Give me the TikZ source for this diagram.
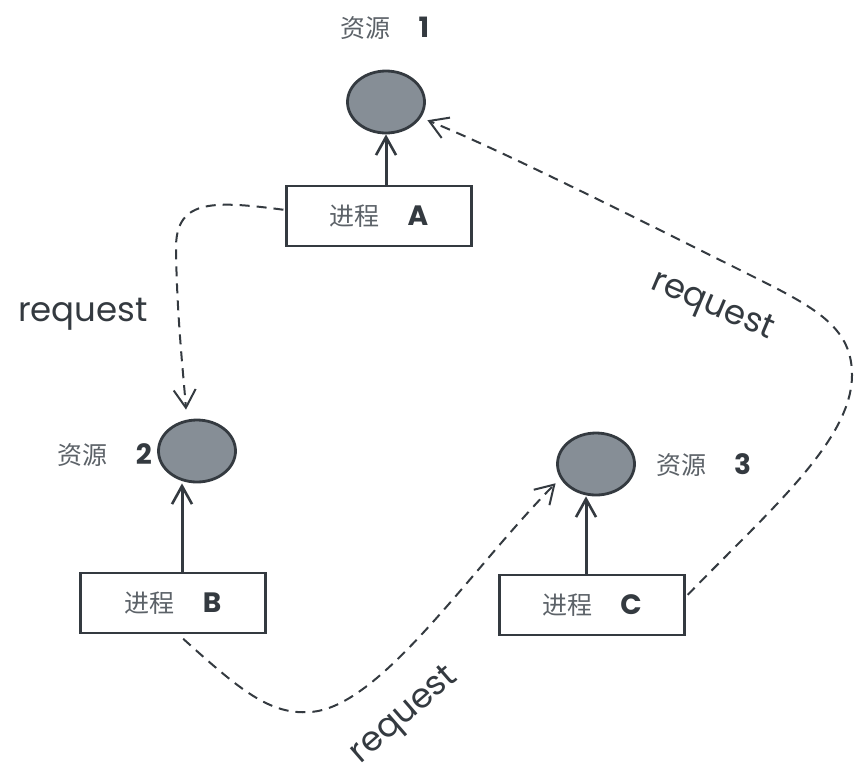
\documentclass[tikz,border=0pt]{standalone}
\usepackage{fontspec}
\usetikzlibrary{arrows.meta,shapes.geometric,calc}
\newfontfamily\cjk{Noto Sans CJK SC}
\newfontfamily\hand{Poppins}
\definecolor{ink}{HTML}{343A40}
\definecolor{lightink}{HTML}{5C6268}
\definecolor{resfill}{HTML}{868E96}
\tikzset{
  res/.style={ellipse,draw=ink,line width=2.8pt,fill=resfill,minimum width=77pt,minimum height=62pt,inner sep=0pt},
  proc/.style={draw=ink,line width=2.2pt,fill=white,minimum width=185pt,minimum height=60pt,inner sep=0pt,font=\fontsize{25}{27}\selectfont,text=lightink},
  lbl/.style={font=\fontsize{25}{27}\selectfont,text=lightink,inner sep=0pt},
  reqlbl/.style={font=\hand\fontsize{34}{36}\selectfont,text=ink,inner sep=0pt},
  solidarr/.style={draw=ink,line width=3pt,-{Straight Barb[length=18pt,width=20pt,line width=2.6pt]}},
  dasharr/.style={draw=ink,line width=2pt,dash pattern=on 10pt off 7pt,-{Straight Barb[length=18pt,width=22pt,line width=2pt]}},
}
\newcommand{\zh}[1]{{\cjk #1}}
\newcommand{\lat}[1]{{\hand\bfseries\fontsize{28}{30}\selectfont\color{ink}#1}}
\begin{document}
\begin{tikzpicture}[x=1pt,y=-1pt]
\useasboundingbox (0,0) rectangle (866,772);
% resources
\node[res] (R1) at (386,102) {};
\node[res] (R2) at (197,451) {};
\node[res] (R3) at (596,464) {};
% resource labels
\node[lbl] (L1) at (385,28) {\zh{资源}\hspace{28pt}\lat{1}};
\node[lbl,anchor=east] (L2) at (152,455) {\zh{资源}\hspace{28pt}\lat{2}};
\node[lbl,anchor=west] (L3) at (656,465) {\zh{资源}\hspace{28pt}\lat{3}};
% processes
\node[proc] (A) at (379,216) {\zh{进程}\hspace{28pt}\lat{A}};
\node[proc] (B) at (173,603) {\zh{进程}\hspace{28pt}\lat{B}};
\node[proc] (C) at (592,605) {\zh{进程}\hspace{28pt}\lat{C}};
% solid arrows
\draw[solidarr] (A.north -| R1) -- (R1.south);
\draw[solidarr] ([xshift=9pt]B.north) -- ([xshift=9pt]B.north |- R2.south);
\draw[solidarr] ([xshift=-6pt]C.north) -- ([xshift=-6pt]C.north |- R3.south);
% dashed requests
\draw[dasharr,shorten <=2pt] ([yshift=6pt]A.west) .. controls (210,200) and (175,200) .. (176,250)
   .. controls (177,320) and (184,380) .. ([xshift=-11pt,yshift=9pt]R2.north);
\draw[dasharr,shorten <=7pt] ([xshift=5pt]B.south) .. controls (240,690) and (270,715) .. (310,712)
   .. controls (380,708) and (470,570) .. ([xshift=-4pt,yshift=-6pt]R3.200);
\draw[dasharr,shorten <=3pt] ([yshift=8pt]C.east) .. controls (770,510) and (852,440) .. (852,375)
   .. controls (852,330) and (820,310) .. (760,280)
   .. controls (620,210) and (500,150) .. ([xshift=5pt,yshift=-5pt]R1.-20);
% request labels
\node[reqlbl] (Q1) at (83,314) {request};
\node[reqlbl,rotate=41] (Q2) at (405,716) {request};
\node[reqlbl,rotate=-23] (Q3) at (712,307) {request};
\end{tikzpicture}
\end{document}
